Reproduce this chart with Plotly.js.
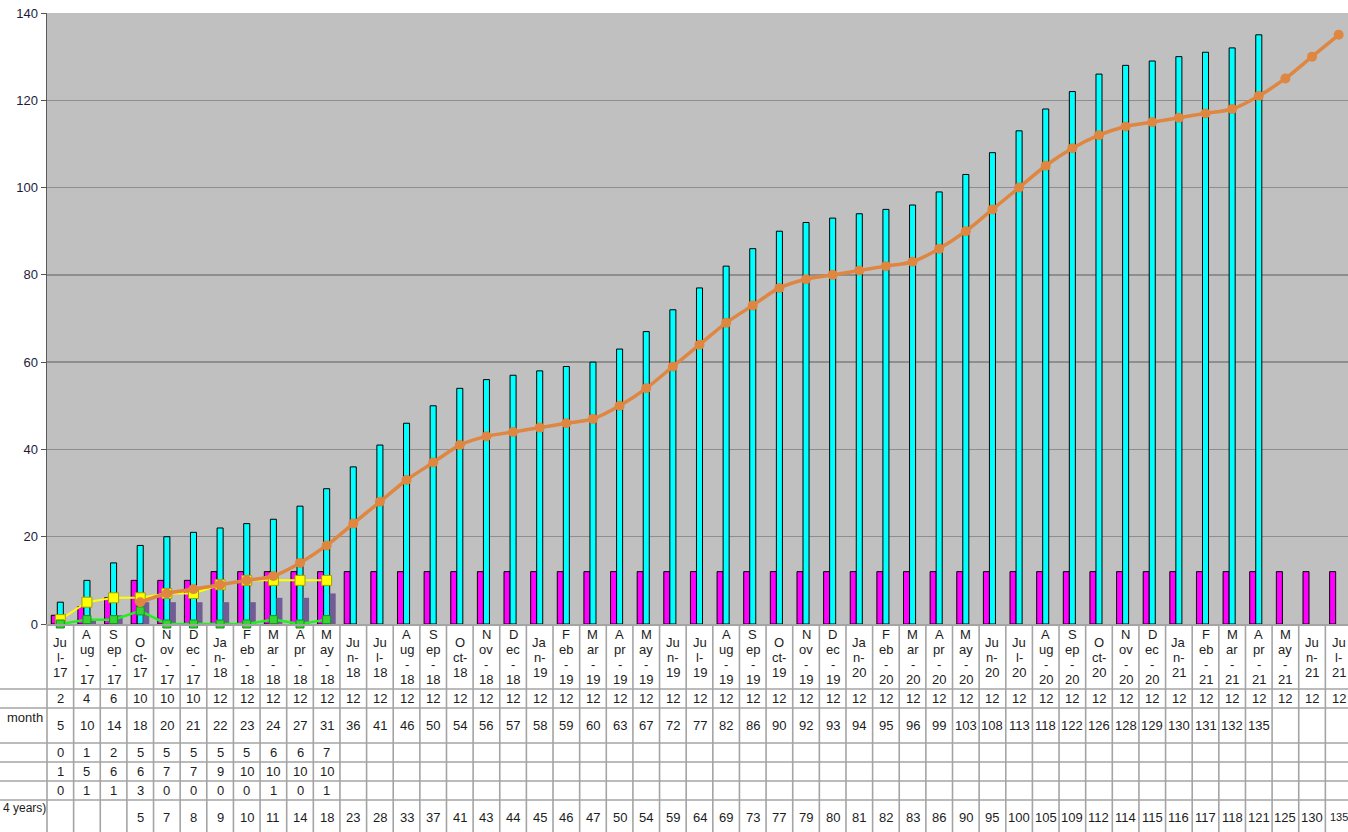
<!DOCTYPE html>
<html>
<head>
<meta charset="utf-8">
<script src="https://cdn.plot.ly/plotly-3.0.1.min.js"></script>
<style>
html,body{margin:0;padding:0;background:#fff;overflow:hidden;}
#chart{width:1348px;height:832px;}
</style>
</head>
<body>
<div id="chart"></div>
<script>
// ---------- data ----------
const categories = ['Jul-17','Aug-17','Sep-17','Oct-17','Nov-17','Dec-17','Jan-18','Feb-18','Mar-18','Apr-18','May-18','Jun-18',
  'Jul-18','Aug-18','Sep-18','Oct-18','Nov-18','Dec-18','Jan-19','Feb-19','Mar-19','Apr-19','May-19','Jun-19',
  'Jul-19','Aug-19','Sep-19','Oct-19','Nov-19','Dec-19','Jan-20','Feb-20','Mar-20','Apr-20','May-20','Jun-20',
  'Jul-20','Aug-20','Sep-20','Oct-20','Nov-20','Dec-20','Jan-21','Feb-21','Mar-21','Apr-21','May-21','Jun-21','Jul-21'];

const row1Magenta = [2,4,6,10,10,10,12,12,12,12,12,12,12,12,12,12,12,12,12,12,12,12,12,12,12,12,12,12,12,12,12,12,12,12,12,12,12,12,12,12,12,12,12,12,12,12,12,12,12];
const row2Cyan = [5,10,14,18,20,21,22,23,24,27,31,36,41,46,50,54,56,57,58,59,60,63,67,72,77,82,86,90,92,93,94,95,96,99,103,108,113,118,122,126,128,129,130,131,132,135,null,null,null];
const row3Purple = [0,1,2,5,5,5,5,5,6,6,7];
const row4Yellow = [1,5,6,6,7,7,9,10,10,10,10];
const row5Green = [0,1,1,3,0,0,0,0,1,0,1];
const row6Orange = [null,null,null,5,7,8,9,10,11,14,18,23,28,33,37,41,43,44,45,46,47,50,54,59,64,69,73,77,79,80,81,82,83,86,90,95,100,105,109,112,114,115,116,117,118,121,125,130,135];
const rowLabels = ['', 'month', '', '', '', '4 years)'];
const yTicks = [0,20,40,60,80,100,120,140];

// ---------- layout helpers ----------
const W = 1348, H = 832, L = 47, T = 13, PB = 624;
const xr = [-0.5, 48.35];
const plotH = PB - T, plotW = W - L;
const py = Y => (PB - Y) / plotH;              // pixel row -> paper y
const pxc = c => (c - xr[0]) / (xr[1] - xr[0]); // category coord -> paper x
const pxPix = X => (X - L) / plotW;            // pixel column -> paper x

const idx = categories.map((c,i)=>i);
const barLine = {color:'#000', width:1};

const traces = [
  {type:'bar', x:idx, y:row1Magenta, marker:{color:'#FF00FF', line:barLine}, name:'r1'},
  {type:'bar', x:idx, y:row2Cyan, marker:{color:'#00FFFF', line:barLine}, name:'r2'},
  {type:'bar', x:idx.slice(0,row3Purple.length), y:row3Purple, marker:{color:'#725C96', line:{color:'#725C96', width:0}}, name:'r3'},
  {type:'scatter', mode:'lines+markers', x:idx.slice(0,row4Yellow.length), y:row4Yellow,
    line:{color:'#FFFF00', width:2}, marker:{symbol:'square', size:10, color:'#FFFF00', line:{color:'#A3A300', width:1}}, cliponaxis:false, name:'r4'},
  {type:'scatter', mode:'lines+markers', x:idx.slice(0,row5Green.length), y:row5Green,
    line:{color:'#22EE22', width:2.5}, marker:{symbol:'square', size:8, color:'#33D633', line:{color:'#1E8E1E', width:1}}, cliponaxis:false, name:'r5'},
  {type:'scatter', mode:'lines+markers', x:idx, y:row6Orange, connectgaps:false,
    line:{color:'#DF8640', width:3.5, shape:'spline', smoothing:0.8}, marker:{symbol:'circle', size:10, color:'#DF8640'}, cliponaxis:false, name:'r6'}
];

// ---------- table ----------
const shapes = [];
const annotations = [];
const gridCol = '#A4A4A4';
const font = {family:'"Liberation Sans", Arial, sans-serif', size:13, color:'#1c1c1c'};

// horizontal row boundaries
const rowBounds = [689, 708, 743, 762, 781, 800];
rowBounds.forEach(Y => shapes.push({type:'line', xref:'paper', yref:'paper', x0:pxPix(0), x1:1.01, y0:py(Y), y1:py(Y), line:{color:gridCol, width:1.6}}));
// vertical boundaries
shapes.push({type:'line', xref:'paper', yref:'paper', x0:0, x1:0, y0:py(PB), y1:py(H+2), line:{color:gridCol, width:1.6}});
for (let i = 0; i < categories.length; i++) {
  const xp = pxc(i + 0.5);
  if (xp <= 1) shapes.push({type:'line', xref:'paper', yref:'paper', x0:xp, x1:xp, y0:py(PB), y1:py(H+2), line:{color:gridCol, width:1.6}});
}

// category labels wrapped like the narrow spreadsheet column
const wrap = {Jan:['Ja','n-'], Feb:['F','eb','-'], Mar:['M','ar','-'], Apr:['A','pr','-'], May:['M','ay','-'], Jun:['Ju','n-'],
  Jul:['Ju','l-'], Aug:['A','ug','-'], Sep:['S','ep','-'], Oct:['O','ct-'], Nov:['N','ov','-'], Dec:['D','ec','-']};
categories.forEach((c,i) => {
  const [m, yy] = c.split('-');
  const lines = wrap[m].concat([yy]);
  const lh = 15, mid = 657;
  const top = mid - (lines.length - 1) * lh / 2;
  lines.forEach((t,k) => annotations.push({xref:'x', yref:'paper', x:i, y:py(top + k*lh), text:t, showarrow:false,
    xanchor:'center', yanchor:'middle', font:font}));
});

// value rows
const rows = [row1Magenta, row2Cyan, row3Purple, row4Yellow, row5Green, row6Orange];
const rowY = [698, 725, 752, 771, 790, 817];
rows.forEach((r, ri) => {
  r.forEach((v,i) => {
    if (v === null || v === undefined) return;
    const last = (i === categories.length - 1);
    annotations.push({xref:'x', yref:'paper', x:i, y:py(rowY[ri]), text:String(v), showarrow:false,
      xanchor:'center', yanchor:'middle', font: (last && String(v).length > 2) ? Object.assign({}, font, {size:11}) : font});
  });
});
// row labels
const rowLabelY = [698, 717, 752, 771, 790, 808];
const rowLabelX = [1, 5, 1, 1, 1, 1];
rowLabels.forEach((t, ri) => {
  if (!t) return;
  annotations.push({xref:'paper', yref:'paper', x:pxPix(rowLabelX[ri]), y:py(rowLabelY[ri]), text:t, showarrow:false,
    xanchor:'left', yanchor:'middle', font: ri === 5 ? Object.assign({}, font, {size:12}) : font});
});

const layout = {
  width:W, height:H,
  margin:{l:L, r:0, t:T, b:H-PB, pad:0},
  paper_bgcolor:'#FFFFFF', plot_bgcolor:'#C0C0C0',
  showlegend:false,
  barmode:'group', bargap:0.32, bargroupgap:0,
  xaxis:{range:xr, showticklabels:false, ticks:'', showgrid:false, zeroline:false, showline:true, linecolor:gridCol, linewidth:1.6, fixedrange:true},
  yaxis:{range:[0,140], tickvals:yTicks, ticktext:yTicks.map(String), ticks:'outside', ticklen:5, tickcolor:'#555', tickwidth:1,
    showgrid:true, gridcolor:'#8E8E8E', gridwidth:1.4, zeroline:false, showline:true, linecolor:'#5A5A5A', linewidth:1.4,
    tickfont:{family:'"Liberation Sans", Arial, sans-serif', size:13, color:'#1c1c3c'}, fixedrange:true},
  shapes:shapes,
  annotations:annotations,
  hovermode:false
};

Plotly.newPlot('chart', traces, layout, {displayModeBar:false, staticPlot:true});
</script>
</body>
</html>
